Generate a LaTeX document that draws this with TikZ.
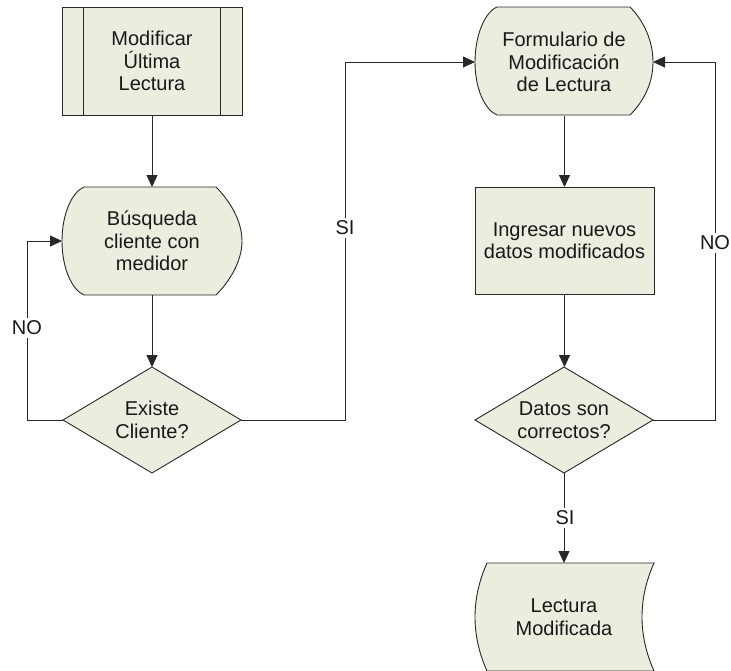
\documentclass[tikz,border=0pt]{standalone}
\usepackage{fontspec}
\setmainfont{Liberation Sans}
\usetikzlibrary{shapes.geometric,arrows.meta}
\definecolor{shapefill}{RGB}{235,237,222}
\definecolor{edgegray}{RGB}{40,40,40}
\begin{document}
\begin{tikzpicture}[x=1pt,y=-1pt,
  every node/.style={font=\fontsize{20}{22.5}\selectfont, text=black!90, align=center, inner sep=0pt, outer sep=0pt},
  outline/.style={draw=edgegray, line width=0.9pt, fill=shapefill},
  holder/.style={draw=none, minimum width=#1},
  decision/.style={diamond, aspect=1.7, draw=edgegray, line width=0.9pt, fill=shapefill, minimum width=178pt, minimum height=106pt},
  flow/.style={draw=edgegray, line width=0.9pt, -{Triangle[length=12pt,width=11pt]}},
  plain/.style={draw=edgegray, line width=0.9pt},
  tag/.style={fill=white, inner sep=3pt}]
\useasboundingbox (0,0) rectangle (731,670);
\fill[white] (0,0) rectangle (731,670);

% predefined process box
\draw[outline] (62,7) rectangle (242,115);
\draw[plain] (83.5,7) -- (83.5,115) (220.5,7) -- (220.5,115);
\node[holder=180pt, minimum height=108pt] (modif) at (152,61) {Modificar\\Última\\Lectura};

% display: search
\draw[outline] (84,187) -- (216,187) .. controls (229,200) and (242,220) .. (242,241)
  .. controls (242,262) and (229,282) .. (216,295) -- (84,295)
  .. controls (72,290) and (62,268) .. (62,241)
  .. controls (62,214) and (72,192) .. (84,187) -- cycle;
\node[holder=180pt, minimum height=108pt] (busq) at (152,241) {Búsqueda\\cliente con\\medidor};

% decision: client exists
\node[decision] (existe) at (152,420) {Existe\\Cliente?};

% display: form
\draw[outline] (497,7) -- (630,7) .. controls (643,20) and (653,40) .. (653,62)
  .. controls (653,84) and (643,102) .. (630,115) -- (497,115)
  .. controls (485,110) and (475,89) .. (475,62)
  .. controls (475,35) and (485,12) .. (497,7) -- cycle;
\node[holder=178pt, minimum height=108pt] (form) at (564,62) {Formulario de\\Modificación\\de Lectura};

% process: enter data
\node[outline, minimum width=179pt, minimum height=107pt] (ingresar) at (564.5,240.5) {Ingresar nuevos\\datos modificados};

% decision: data correct
\node[decision] (datos) at (564,420) {Datos son\\correctos?};

% stored data: result
\draw[outline] (487,563) -- (654,563) .. controls (638,599) and (638,635) .. (654,671)
  -- (487,671) .. controls (471,635) and (471,599) .. (487,563) -- cycle;
\node[holder=167pt, minimum height=108pt] (lectura) at (564,617) {Lectura\\Modificada};

% connectors
\coordinate (c1) at (27,420);
\coordinate (c2) at (27,241);
\coordinate (c3) at (345,420);
\coordinate (c4) at (345,62);
\coordinate (c5) at (715,420);
\coordinate (c6) at (715,62);

\draw[flow] (modif.south) -- (busq.north);
\draw[flow] (busq.south) -- (existe.north);
\draw[flow] (existe.west) -- (c1) -- (c2) -- (busq.west);
\draw[flow] (existe.east) -- (c3) -- (c4) -- (form.west);
\draw[flow] (form.south -| ingresar.north) -- (ingresar.north);
\draw[flow] (ingresar.south) -- (ingresar.south |- datos.north);
\draw[flow] (datos.east) -- (c5) -- (c6) -- (form.east);
\draw[flow] (datos.south) -- (datos.south |- lectura.north);

% branch labels
\node[tag] (no1) at (27,328) {NO};
\node[tag] (si1) at (345,228) {SI};
\node[tag] (no2) at (715,243) {NO};
\node[tag] (si2) at (565,518) {SI};
\end{tikzpicture}
\end{document}
